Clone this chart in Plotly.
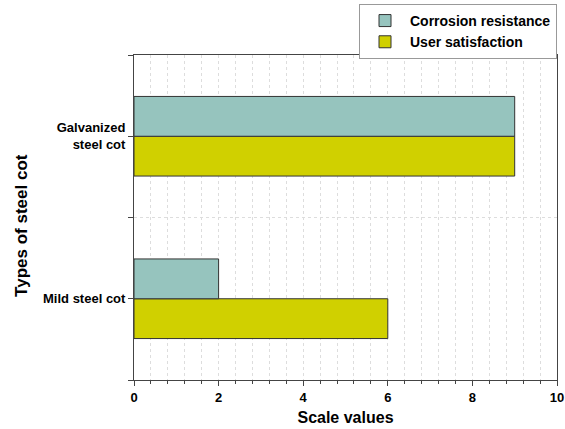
import plotly.graph_objects as go

categories = ["Mild steel cot", "Galvanized steel cot"]
tick_labels = ["Mild steel cot", "Galvanized<br>steel cot"]
corrosion_resistance = [2, 9]
user_satisfaction = [6, 9]

ypos = list(range(len(categories)))

fig = go.Figure()
fig.add_trace(go.Bar(
    y=ypos, x=user_satisfaction, orientation="h", name="User satisfaction",
    marker=dict(color="#D0D000", line=dict(color="#333333", width=1)),
))
fig.add_trace(go.Bar(
    y=ypos, x=corrosion_resistance, orientation="h", name="Corrosion resistance",
    marker=dict(color="#96C4BE", line=dict(color="#333333", width=1)),
))

font_family = "Liberation Sans, Arial, sans-serif"
fig.update_layout(
    width=565, height=429,
    margin=dict(l=134, r=8, t=55, b=49, autoexpand=False),
    paper_bgcolor="white", plot_bgcolor="white",
    barmode="group", bargap=0.51, bargroupgap=0,
    font=dict(family=font_family, color="black"),
    showlegend=True,
    legend=dict(
        x=1, xanchor="right", y=1.157, yanchor="top",
        traceorder="reversed",
        bordercolor="#999999", borderwidth=1, bgcolor="white",
        font=dict(size=14, family=font_family, weight="bold"),
        tracegroupgap=0, itemwidth=40,
    ),
    xaxis=dict(
        range=[0, 10], dtick=2, tick0=0, automargin=False,
        showline=True, linecolor="#444444", linewidth=1, mirror=True,
        ticks="outside", ticklen=5, tickcolor="#444444",
        tickfont=dict(size=13, weight="bold"),
        showgrid=True, gridcolor="#DDDDDD", griddash="dot", gridwidth=1,
        zeroline=False,
        minor=dict(dtick=0.4, tick0=0, ticks="outside", ticklen=3, tickcolor="#444444",
                   showgrid=True, gridcolor="#DDDDDD", griddash="dot"),
        title=dict(text="Scale values", font=dict(size=16, weight="bold"), standoff=8),
    ),
    yaxis=dict(
        range=[-0.5, 1.5], automargin=False,
        tickvals=ypos, ticktext=tick_labels,
        showline=True, linecolor="#444444", linewidth=1, mirror=True,
        ticks="outside", ticklen=5, tickcolor="#444444",
        tickfont=dict(size=13, weight="bold"),
        showgrid=False, zeroline=False,
        minor=dict(tick0=0.5, dtick=1, ticks="outside", ticklen=5, tickcolor="#444444",
                   showgrid=True, gridcolor="#DDDDDD", griddash="dot"),
    ),
    annotations=[dict(
        text="Types of steel cot", textangle=-90,
        xref="paper", yref="paper", x=-0.265, y=0.477,
        xanchor="center", yanchor="middle", showarrow=False,
        font=dict(size=17, weight="bold", family=font_family),
    )],
)

fig.write_html("out.html", config={"displayModeBar": False},
               post_script="document.body.style.margin='0';")
